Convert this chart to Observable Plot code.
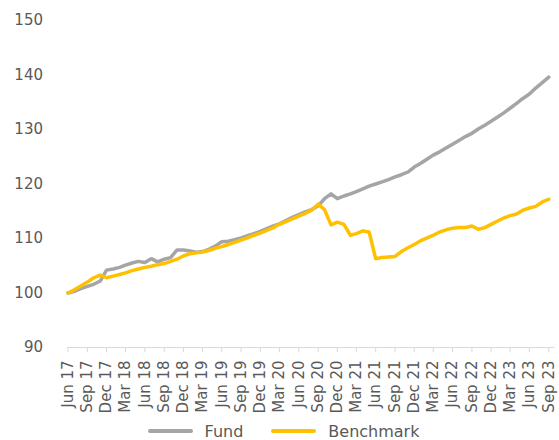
<!DOCTYPE html>
<html>
<head>
<meta charset="utf-8">
<script src="https://cdn.jsdelivr.net/npm/d3@7"></script>
<script src="https://cdn.jsdelivr.net/npm/@observablehq/plot@0.6"></script>
<style>
  html, body { margin: 0; padding: 0; background: #fff; }
  #chart { width: 559px; }
  .legend { display: flex; justify-content: center; align-items: center; height: 18px;
    font-family: "DejaVu Sans", sans-serif; font-size: 16px; color: #595959; margin-left: 8px; }
  .legend .sw { display: inline-block; width: 45px; height: 4px; border-radius: 2px; margin-right: 12px; }
  .legend .item { display: flex; align-items: center; margin: 0 14px; }
</style>
</head>
<body>
<div id="chart"></div>
<script>
// Monthly observations, Jun 2017 .. Sep 2023
const startMonth = "2017-06";
const endMonth = "2023-09";
const seriesNames = ["Fund", "Benchmark"];
const seriesColors = ["#a5a5a5", "#ffc000"];

const fundValues = [
  100.0, 100.3, 100.8, 101.2, 101.6, 102.2, 104.2, 104.4, 104.7, 105.1,
  105.5, 105.8, 105.6, 106.3, 105.7, 106.2, 106.5, 107.9, 107.9, 107.7,
  107.5, 107.6, 108.0, 108.6, 109.4, 109.5, 109.8, 110.1, 110.5, 110.9,
  111.3, 111.8, 112.3, 112.7, 113.3, 113.9, 114.4, 114.9, 115.3, 116.0,
  117.3, 118.2, 117.3, 117.8, 118.2, 118.6, 119.1, 119.6, 120.0, 120.4,
  120.8, 121.3, 121.7, 122.2, 123.1, 123.8, 124.6, 125.3, 125.9, 126.6,
  127.3, 128.0, 128.7, 129.3, 130.1, 130.8, 131.5, 132.3, 133.1, 133.9,
  134.8, 135.7, 136.5, 137.6, 138.6, 139.6
];
const benchmarkValues = [
  100.0, 100.6, 101.3, 102.0, 102.8, 103.3, 102.8, 103.1, 103.4, 103.7,
  104.1, 104.4, 104.7, 104.9, 105.2, 105.4, 105.8, 106.2, 106.8, 107.2,
  107.4, 107.5, 107.8, 108.2, 108.5, 108.9, 109.3, 109.7, 110.1, 110.6,
  111.0, 111.5, 112.0, 112.6, 113.1, 113.6, 114.1, 114.6, 115.2, 116.3,
  115.3, 112.5, 113.0, 112.6, 110.6, 110.9, 111.4, 111.2, 106.3, 106.5,
  106.6, 106.7, 107.6, 108.3, 108.9, 109.6, 110.1, 110.6, 111.2, 111.6,
  111.9, 112.0, 112.0, 112.3, 111.7, 112.0, 112.6, 113.2, 113.8, 114.2,
  114.5, 115.2, 115.6, 115.9, 116.7, 117.2
];
const yTicks = [90, 100, 110, 120, 130, 140, 150];

const parse = d3.utcParse("%Y-%m");
const months = d3.utcMonth.range(parse(startMonth), d3.utcMonth.offset(parse(endMonth), 1));
const quarterTicks = months.filter((d, i) => i % 3 === 0);

const rows = [];
[fundValues, benchmarkValues].forEach((vals, s) => {
  vals.forEach((v, i) => rows.push({date: months[i], value: v, series: seriesNames[s]}));
});

const W = 559, H = 422;
const chart = Plot.plot({
  width: W,
  height: H,
  marginLeft: 67.5,
  marginRight: 10.7,
  marginTop: 20,
  marginBottom: H - 347,
  style: {fontFamily: "DejaVu Sans, sans-serif", fontSize: "15px", color: "#595959", background: "#fff"},
  x: {type: "utc", domain: [months[0], months[months.length - 1]]},
  y: {domain: [90, 150]},
  color: {domain: seriesNames, range: seriesColors},
  marks: [
    Plot.ruleY([90], {stroke: "#d9d9d9", strokeWidth: 1.2, x1: months[0], x2: d3.utcMonth.offset(months[months.length - 1], 1)}),
    Plot.axisX({ticks: quarterTicks, tickFormat: d3.utcFormat("%b %y"), tickRotate: -90,
      tickSize: 5, tickPadding: 8, stroke: "#d9d9d9", fill: "#595959", fontSize: 15, label: null}),
    Plot.axisY({ticks: yTicks, tickSize: 0, tickPadding: 25, fill: "#595959", fontSize: 15, label: null}),
    Plot.lineY(rows, {x: "date", y: "value", stroke: "series", strokeWidth: 3.5,
      strokeLinejoin: "round", strokeLinecap: "round"})
  ]
});
document.getElementById("chart").appendChild(chart);

const legend = document.createElement("div");
legend.className = "legend";
seriesNames.forEach((name, i) => {
  const item = document.createElement("span");
  item.className = "item";
  const sw = document.createElement("span");
  sw.className = "sw";
  sw.style.background = seriesColors[i];
  item.appendChild(sw);
  item.appendChild(document.createTextNode(name));
  legend.appendChild(item);
});
document.getElementById("chart").appendChild(legend);
</script>
</body>
</html>
